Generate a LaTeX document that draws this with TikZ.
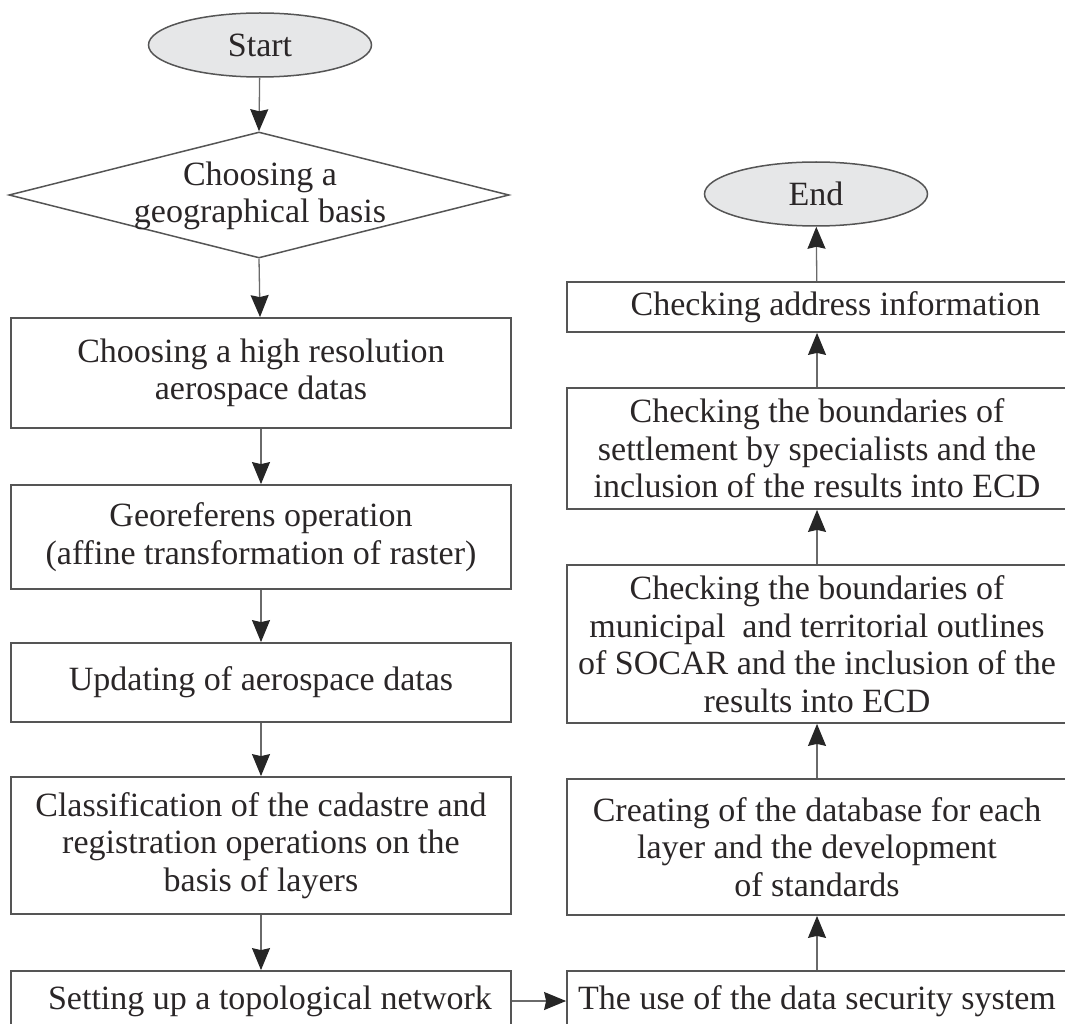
\documentclass[tikz,border=0pt]{standalone}
\usepackage{fontspec}
\setmainfont{Liberation Serif}
\usetikzlibrary{shapes.geometric,arrows.meta}
\definecolor{boxc}{HTML}{555555}
\definecolor{linec}{HTML}{6A6A6A}
\definecolor{headc}{HTML}{262626}
\definecolor{termfill}{HTML}{E6E7E8}
\definecolor{textc}{HTML}{2A2627}
\newcommand\figfont{\fontsize{34}{37.5}\selectfont}
\tikzset{
  box/.style={rectangle, draw=boxc, line width=1.8pt, inner sep=0pt, align=center,
    font=\figfont, text=textc},
  lbox/.style={box, minimum width=500pt},
  term/.style={ellipse, draw=boxc, fill=termfill, line width=1.5pt, minimum width=223pt,
    minimum height=64pt, inner sep=0pt, font=\figfont, text=textc},
  arr/.style={draw=linec, line width=1.3pt,
    -{Stealth[length=22pt,width=18pt,inset=2pt,fill=headc,color=headc]}},
}
\begin{document}
\begin{tikzpicture}[x=1pt,y=-1pt]
\useasboundingbox (0,0) rectangle (1065,1024);
% left column
\node[term] (start) at (260,45) {Start};
\node[diamond, draw=boxc, line width=1.5pt, minimum width=500pt, minimum height=126pt,
  inner sep=0pt] (dec) at (259,195) {};
\node[font=\figfont, text=textc, align=center, inner sep=0pt] (dect) at (260,196)
  {Choosing a\\geographical basis};
\node[lbox, minimum height=110pt] (b1) at (261,373) {Choosing a high resolution\\aerospace datas};
\node[lbox, minimum height=104pt] (b2) at (261,537) {Georeferens operation\\(affine transformation of raster)};
\node[lbox, minimum height=79pt] (b3) at (261,682.5) {Updating of aerospace datas};
\node[lbox, minimum height=137pt] (b4) at (261,845.5) {Classification of the cadastre and\\registration operations on the\\basis of layers};
\node[lbox, minimum height=60pt] (b5) at (261,1001) {\hspace*{18pt}Setting up a topological network};
% right column
\node[lbox, minimum height=60pt] (r1) at (817,1001) {The use of the data security system};
\node[lbox, minimum height=136pt] (r2) at (817,847) {Creating of the database for each\\layer and the development\\of standards};
\node[lbox, minimum height=158pt] (r3) at (817,644) {Checking the boundaries of\\municipal\ \ and territorial outlines\\of SOCAR and the inclusion of the\\results into ECD};
\node[lbox, minimum height=121pt] (r4) at (817,448.5) {Checking the boundaries of\\settlement by specialists and the\\inclusion of the results into ECD};
\node[lbox, minimum height=50pt] (r5) at (817,307) {\hspace*{37pt}Checking address information};
\node[term] (end) at (816,194) {End};
% connectors
\draw[arr] (start) -- (dec.north);
\draw[arr] (dec.south) -- (b1);
\draw[arr] (b1) -- (b2);
\draw[arr] (b2) -- (b3);
\draw[arr] (b3) -- (b4);
\draw[arr] (b4) -- (b5);
\draw[arr] (b5) -- (r1);
\draw[arr] (r1) -- (r2);
\draw[arr] (r2) -- (r3);
\draw[arr] (r3) -- (r4);
\draw[arr] (r4) -- (r5);
\draw[arr] (r5) -- (end);
\end{tikzpicture}
\end{document}
